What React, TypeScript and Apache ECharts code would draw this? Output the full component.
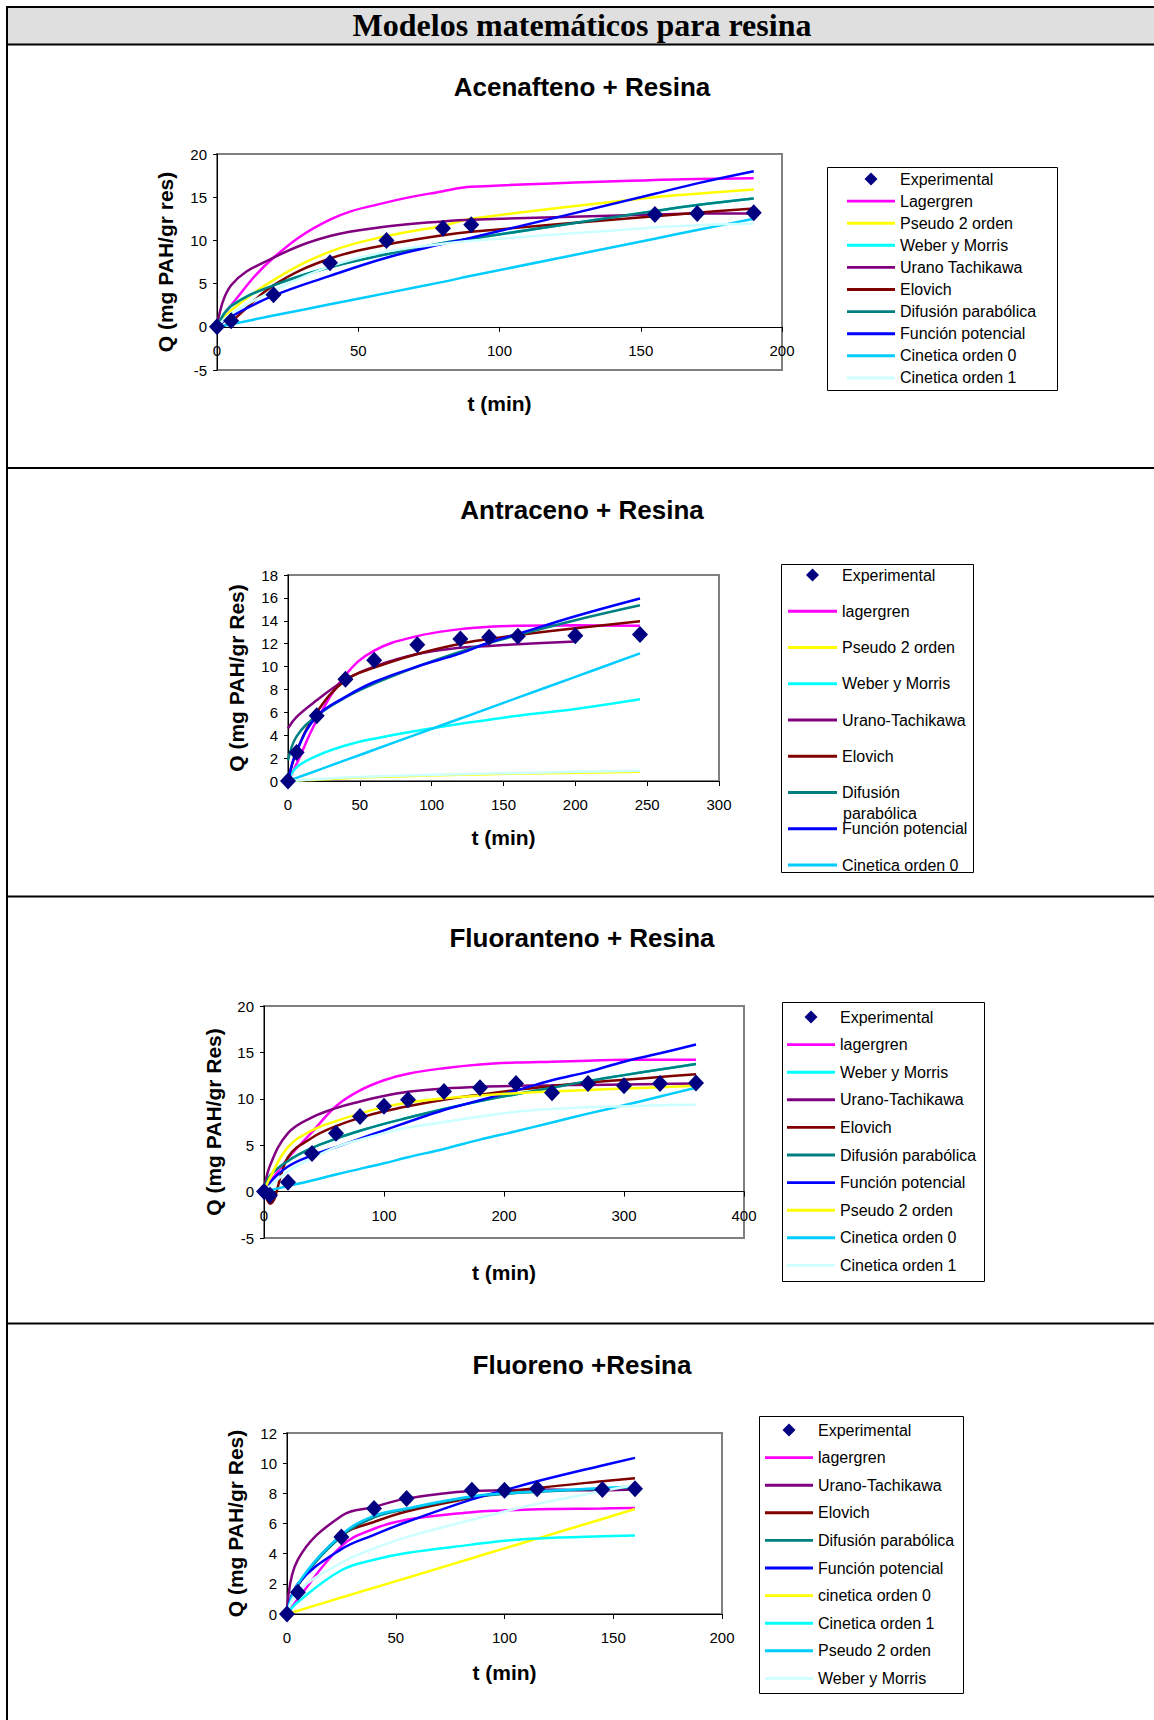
import React, { useEffect, useRef } from 'react';
import * as echarts from 'echarts';

// ---------- Panel 1: Acenafteno + Resina ----------
const t1 = [0, 5, 20, 40, 60, 80, 90, 155, 170, 190];
const exp1 = [0, 0.7, 3.7, 7.4, 10.0, 11.4, 11.8, 13.0, 13.1, 13.2];
const lag1 = [0, 2.5, 8.0, 12.4, 14.4, 15.7, 16.2, 17.0, 17.1, 17.2];
const pso1 = [0, 1.9, 5.4, 8.7, 10.5, 11.7, 12.5, 15.0, 15.4, 15.9];
const wm1 = [0, 2.4, 4.8, 6.9, 8.4, 9.7, 10.2, 13.4, 14.1, 14.85];
const ura1 = [0, 4.8, 8.0, 10.5, 11.6, 12.2, 12.4, 13.0, 13.1, 13.1];
const elo1 = [-0.3, 0.6, 4.8, 7.9, 9.5, 10.6, 11.0, 12.8, 13.2, 13.7];
const dif1 = [0, 2.4, 4.8, 6.9, 8.4, 9.7, 10.2, 13.4, 14.1, 14.85];
const pot1 = [0, 1.2, 3.6, 5.9, 8.0, 9.6, 10.3, 15.4, 16.6, 18.0];
const c0_1 = [0, 0.3, 1.3, 2.6, 3.9, 5.2, 5.9, 10.2, 11.2, 12.5];
const c1_1 = [0, 1.5, 4.2, 7.0, 8.7, 9.6, 9.95, 11.5, 11.75, 11.95];

// ---------- Panel 2: Antraceno + Resina ----------
const t2 = [0, 6, 20, 40, 60, 90, 120, 140, 160, 200, 245];
const exp2 = [0, 2.5, 5.7, 8.9, 10.55, 11.9, 12.4, 12.55, 12.65, 12.7, 12.8];
const lag2 = [0, 1.5, 5.3, 9.25, 11.4, 12.66, 13.27, 13.48, 13.56, 13.6, 13.56];
const pso2 = [0, 0.05, 0.12, 0.25, 0.35, 0.45, 0.55, 0.6, 0.65, 0.72, 0.8];
const wm2 = [0, 1.2, 2.2, 3.1, 3.7, 4.4, 5.0, 5.35, 5.7, 6.3, 7.15];
const ura2 = [4.6, 5.6, 7.05, 8.85, 10.0, 11.1, 11.65, 11.8, 11.95, 12.2, null];
const elo2 = [0, 2.6, 6.0, 8.8, 9.9, 11.1, 12.0, 12.4, 12.75, 13.35, 13.95];
const dif2 = [1.8, 3.9, 5.7, 7.3, 8.5, 10.0, 11.3, 12.05, 12.75, 14.05, 15.35];
const pot2 = [0, 2.6, 5.65, 7.35, 8.65, 10.0, 11.15, 12.1, 12.85, 14.4, 15.95];
const c0_2 = [0, 0.27, 0.91, 1.82, 2.73, 4.1, 5.46, 6.37, 7.28, 9.1, 11.15];
const c1_2 = [0, 0.05, 0.15, 0.3, 0.4, 0.5, 0.6, 0.65, 0.7, 0.8, 0.9];

// ---------- Panel 3: Fluoranteno + Resina ----------
const t3 = [0, 5, 20, 40, 60, 80, 100, 120, 150, 180, 210, 240, 270, 300, 330, 360];
const exp3 = [0, -0.4, 1.0, 4.1, 6.3, 8.1, 9.2, 9.9, 10.8, 11.2, 11.65, 10.65, 11.65, 11.4, 11.65, 11.7];
const lag3 = [0, 1.0, 3.6, 6.4, 9.2, 10.9, 12.0, 12.7, 13.3, 13.7, 13.9, 14.0, 14.1, 14.2, 14.2, 14.2];
const wm3 = [0, 1.7, 3.3, 4.7, 5.7, 6.55, 7.3, 7.95, 8.9, 9.75, 10.5, 11.2, 11.9, 12.55, 13.15, 13.75];
const ura3 = [0, 2.8, 6.3, 8.0, 9.0, 9.7, 10.3, 10.75, 11.1, 11.3, 11.4, 11.45, 11.5, 11.55, 11.6, 11.65];
const elo3 = [0, -1.3, 3.7, 5.8, 7.05, 7.95, 8.65, 9.2, 9.9, 10.45, 10.95, 11.35, 11.75, 12.05, 12.35, 12.65];
const dif3 = [0, 1.7, 3.3, 4.7, 5.7, 6.55, 7.3, 7.95, 8.9, 9.75, 10.5, 11.2, 11.9, 12.55, 13.15, 13.75];
const pot3 = [0, 1.0, 2.7, 3.9, 4.8, 5.7, 6.6, 7.5, 8.8, 9.85, 10.9, 12.0, 12.9, 14.0, 14.9, 15.85];
const pso3 = [0, 1.5, 4.8, 6.6, 7.6, 8.4, 9.1, 9.6, 10.05, 10.35, 10.6, 10.8, 10.95, 11.1, 11.25, 11.4];
const c0_3 = [0, 0.15, 0.6, 1.2, 1.85, 2.45, 3.05, 3.7, 4.6, 5.6, 6.5, 7.45, 8.4, 9.3, 10.25, 11.2];
const c1_3 = [0, 0.6, 2.2, 3.6, 4.8, 5.6, 6.3, 6.9, 7.5, 8.1, 8.6, 8.9, 9.1, 9.2, 9.3, 9.35];

// ---------- Panel 4: Fluoreno + Resina ----------
const t4 = [0, 5, 25, 40, 55, 85, 100, 115, 145, 160];
const exp4 = [0, 1.45, 5.1, 7.0, 7.65, 8.2, 8.2, 8.3, 8.25, 8.3];
const lag4 = [0, 1.0, 4.5, 5.65, 6.25, 6.75, 6.87, 6.95, 7.0, 7.03];
const ura4 = [0, 3.6, 6.5, 7.1, 7.65, 8.15, 8.2, 8.25, 8.2, 8.25];
const elo4 = [0, 1.9, 5.2, 6.1, 6.8, 7.7, 8.05, 8.35, 8.8, 9.0];
const dif4 = [0, 1.9, 5.15, 6.4, 6.95, 7.75, 7.95, 8.1, 8.3, 8.4];
const pot4 = [0, 2.0, 4.3, 5.25, 6.1, 7.6, 8.2, 8.8, 9.85, 10.35];
const c0_4 = [0, 0.22, 1.09, 1.74, 2.39, 3.7, 4.35, 5.0, 6.3, 6.96];
const c1_4 = [0, 0.8, 2.9, 3.6, 4.05, 4.6, 4.85, 5.0, 5.15, 5.2];
const pso4 = [0, 2.0, 5.25, 6.5, 7.0, 7.8, 8.0, 8.13, 8.35, 8.46];
const wm4 = [0, 1.5, 3.4, 4.35, 5.1, 6.25, 6.8, 7.3, 8.15, 8.55];

// ---------- Titles / axis ----------
const mainTitle = 'Modelos matemáticos para resina';
const panelTitles = ['Acenafteno + Resina', 'Antraceno + Resina', 'Fluoranteno + Resina', 'Fluoreno +Resina'];
const yTitles = ['Q (mg PAH/gr res)', 'Q (mg PAH/gr Res)', 'Q (mg PAH/gr Res)', 'Q (mg PAH/gr Res)'];
const xTitle = 't (min)';
const xRanges = [[0, 200, 50], [0, 300, 50], [0, 400, 100], [0, 200, 50]];
const yRanges = [[-5, 20, 5], [0, 18, 2], [-5, 20, 5], [0, 12, 2]];

const MAG = '#FF00FF', YEL = '#FFFF00', CYAN = '#00FFFF', PURP = '#800080', DRED = '#800000';
const TEAL = '#008080', BLUE = '#0000FF', SKY = '#00CCFF', LCYAN = '#CCFFFF', NAVY = '#000080';

type Model = [string, string, (number | null)[]];

const models1: Model[] = [
  ['Lagergren', MAG, lag1], ['Pseudo 2 orden', YEL, pso1], ['Weber y Morris', CYAN, wm1],
  ['Urano Tachikawa', PURP, ura1], ['Elovich', DRED, elo1], ['Difusión parabólica', TEAL, dif1],
  ['Función potencial', BLUE, pot1], ['Cinetica orden 0', SKY, c0_1], ['Cinetica orden 1', LCYAN, c1_1],
];
const models2: Model[] = [
  ['lagergren', MAG, lag2], ['Pseudo 2 orden', YEL, pso2], ['Weber y Morris', CYAN, wm2],
  ['Urano-Tachikawa', PURP, ura2], ['Elovich', DRED, elo2], ['Difusión parabólica', TEAL, dif2],
  ['Función potencial', BLUE, pot2], ['Cinetica orden 0', SKY, c0_2], ['Cinetica orden 1', LCYAN, c1_2],
];
const models3: Model[] = [
  ['lagergren', MAG, lag3], ['Weber y Morris', CYAN, wm3], ['Urano-Tachikawa', PURP, ura3],
  ['Elovich', DRED, elo3], ['Difusión parabólica', TEAL, dif3], ['Función potencial', BLUE, pot3],
  ['Pseudo 2 orden', YEL, pso3], ['Cinetica orden 0', SKY, c0_3], ['Cinetica orden 1', LCYAN, c1_3],
];
const models4: Model[] = [
  ['lagergren', MAG, lag4], ['Urano-Tachikawa', PURP, ura4], ['Elovich', DRED, elo4],
  ['Difusión parabólica', TEAL, dif4], ['Función potencial', BLUE, pot4], ['cinetica orden 0', YEL, c0_4],
  ['Cinetica orden 1', CYAN, c1_4], ['Pseudo 2 orden', SKY, pso4], ['Weber y Morris', LCYAN, wm4],
];

const panels = [
  { t: t1, exp: exp1, models: models1, legendCount: 9 },
  { t: t2, exp: exp2, models: models2, legendCount: 8 },
  { t: t3, exp: exp3, models: models3, legendCount: 9 },
  { t: t4, exp: exp4, models: models4, legendCount: 9 },
];

// ---------- Layout (positions/styles) ----------
const FONT = '"Liberation Sans", Arial, Helvetica, sans-serif';
const SERIF = '"Liberation Serif", "Times New Roman", serif';
const grids = [
  { left: 217, top: 154, width: 565, height: 216 },
  { left: 288, top: 575, width: 431, height: 206 },
  { left: 264, top: 1006, width: 480, height: 232 },
  { left: 287, top: 1433, width: 435, height: 181 },
];
const titleTops = [74, 497, 925, 1352];
const xNameGaps = [66, 46, 70, 48];
const yNameGaps = [41.5, 41.5, 40.5, 41.5];
const legendPos = [
  { left: 847, top: 171, gap: 6.1, w: 48, box: [827, 167, 230, 223] },
  { left: 788, top: 567, gap: 20.25, w: 49, box: [781, 564, 192, 308] },
  { left: 787, top: 1009, gap: 11.6, w: 48, box: [782, 1002, 202, 279] },
  { left: 765, top: 1422, gap: 11.6, w: 48, box: [759, 1416, 204, 277] },
];
const separators = [468, 896.5, 1323.5];

const LINE_ICON = 'path://M0,0L50,0L50,3L0,3Z';
const DIAMOND_ICON = 'path://M6.5,0L13,6.5L6.5,13L0,6.5Z';

function buildOption() {
  const series: any[] = [];
  const legends: any[] = [];
  const xAxes: any[] = [];
  const yAxes: any[] = [];

  panels.forEach((p, i) => {
    const pairs = (vals: (number | null)[]) =>
      p.t.map((t, k) => (vals[k] == null ? null : [t, vals[k]])).filter((d) => d !== null);

    series.push({
      type: 'scatter', name: 'Experimental', xAxisIndex: i, yAxisIndex: i,
      data: pairs(p.exp), symbol: 'diamond', symbolSize: [16, 17],
      itemStyle: { color: NAVY, opacity: 1 }, z: 6, silent: true,
    });
    p.models.forEach(([name, color, vals]) => {
      series.push({
        type: 'line', name, xAxisIndex: i, yAxisIndex: i, data: pairs(vals),
        smooth: 0.4, symbol: 'none', showSymbol: false,
        lineStyle: { color, width: 2.5 }, itemStyle: { color }, z: 3, silent: true,
      });
    });

    const lp = legendPos[i];
    const legendItems = [
      { name: 'Experimental', icon: DIAMOND_ICON, itemStyle: { color: NAVY, opacity: 1 } },
      ...p.models.slice(0, p.legendCount).map(([name, color]) => ({ name, icon: LINE_ICON, itemStyle: { color } })),
    ];
    legends.push({
      orient: 'vertical', left: lp.left, top: lp.top, itemGap: lp.gap,
      itemWidth: lp.w, itemHeight: 13, padding: 0, selectedMode: false,
      itemStyle: { borderWidth: 0 },
      textStyle: { fontFamily: FONT, fontSize: 16, color: '#000' },
      formatter: (n: string) => (i === 1 && n === 'Difusión parabólica' ? 'Difusión' : n),
      data: legendItems,
    });

    const [xmin, xmax, xint] = xRanges[i];
    const [ymin, ymax, yint] = yRanges[i];
    // x axis sits on the y = 0 line (Excel style)
    const zeroOffset = -((0 - ymin) / (ymax - ymin)) * grids[i].height;
    xAxes.push({
      gridIndex: i, type: 'value', min: xmin, max: xmax, interval: xint,
      position: 'bottom', offset: zeroOffset,
      axisLine: { show: true, onZero: false, lineStyle: { color: '#000', width: 1 } },
      axisTick: { show: true, length: 5, lineStyle: { color: '#000' } },
      axisLabel: { show: true, fontSize: 15, color: '#000', margin: 16, fontFamily: FONT },
      splitLine: { show: false },
      name: xTitle, nameLocation: 'middle', nameGap: xNameGaps[i], nameMoveOverlap: false,
      nameTextStyle: { fontSize: 21, fontWeight: 'bold', color: '#000', fontFamily: FONT },
    });
    yAxes.push({
      gridIndex: i, type: 'value', min: ymin, max: ymax, interval: yint,
      position: 'left',
      axisLine: { show: true, onZero: false, lineStyle: { color: '#000', width: 1 } },
      axisTick: { show: true, length: 4, lineStyle: { color: '#000' } },
      axisLabel: { show: true, fontSize: 15, color: '#000', margin: 10, fontFamily: FONT },
      splitLine: { show: false },
      name: yTitles[i], nameLocation: 'middle', nameRotate: 90, nameGap: yNameGaps[i], nameMoveOverlap: false,
      nameTextStyle: { fontSize: 21, fontWeight: 'bold', color: '#000', fontFamily: FONT },
    });
  });

  const graphic: any[] = [
    { type: 'rect', shape: { x: 7, y: 7, width: 1147, height: 37 }, style: { fill: '#DFDFDF' }, z: -10 },
    { type: 'rect', shape: { x: 6, y: 6, width: 1148, height: 2 }, style: { fill: '#000' } },
    { type: 'rect', shape: { x: 6, y: 43.5, width: 1148, height: 2 }, style: { fill: '#000' } },
    { type: 'rect', shape: { x: 6, y: 6, width: 2, height: 1714 }, style: { fill: '#000' } },
    ...separators.map((y) => ({ type: 'rect', shape: { x: 6, y: y - 1, width: 1148, height: 2 }, style: { fill: '#000' } })),
    // wrapped second line of the "Difusión parabólica" legend entry (panel 2)
    {
      type: 'text', z: 50,
      style: {
        text: 'parabólica', x: 843, y: 813, fill: '#000',
        font: '16px "Liberation Sans", Arial, sans-serif',
        align: 'left', verticalAlign: 'middle', textAlign: 'left', textVerticalAlign: 'middle',
      },
    },
    // clip of the partially hidden last legend row in panel 2
    { type: 'rect', shape: { x: 782, y: 872.5, width: 192, height: 14 }, style: { fill: '#fff' }, z: 100 },
    ...legendPos.map((lp) => ({
      type: 'rect', z: 101,
      shape: { x: lp.box[0] + 0.5, y: lp.box[1] + 0.5, width: lp.box[2], height: lp.box[3] },
      style: { fill: 'none', stroke: '#000', lineWidth: 1 },
    })),
  ];

  return {
    animation: false,
    backgroundColor: '#fff',
    textStyle: { fontFamily: FONT },
    title: [
      { text: mainTitle, left: 582, top: 9, textAlign: 'center', padding: 0,
        textStyle: { fontFamily: SERIF, fontWeight: 'bold', fontSize: 32, color: '#000' } },
      ...panelTitles.map((text, i) => ({
        text, left: 582, top: titleTops[i], textAlign: 'center', padding: 0,
        textStyle: { fontFamily: FONT, fontWeight: 'bold', fontSize: 26, color: '#000' },
      })),
    ],
    tooltip: { show: false },
    grid: grids.map((g) => ({
      ...g, show: true, borderColor: '#808080', borderWidth: 2, backgroundColor: 'transparent',
      containLabel: false, outerBoundsMode: 'none',
    })),
    xAxis: xAxes,
    yAxis: yAxes,
    legend: legends,
    series,
    graphic,
  };
}

export default function App() {
  const ref = useRef<HTMLDivElement>(null);
  useEffect(() => {
    const chart = echarts.init(ref.current as HTMLDivElement, null, { renderer: 'svg' });
    chart.setOption(buildOption() as any);
    return () => chart.dispose();
  }, []);
  return (
    <div
      ref={ref}
      style={{ position: 'absolute', left: 0, top: 0, width: 1154, height: 1720, background: '#fff' }}
    />
  );
}
